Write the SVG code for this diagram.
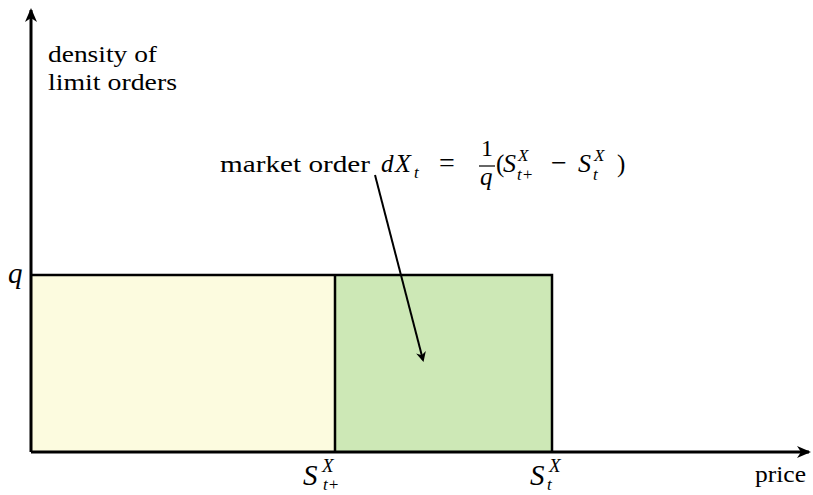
<svg xmlns="http://www.w3.org/2000/svg" width="813" height="495" viewBox="0 0 813 495">
<style>
text{font-family:"Liberation Serif","DejaVu Serif","Noto Serif",serif;fill:#000}
.t{font-size:23px}
.m{font-style:italic}
.axis{stroke:#000;stroke-width:3;fill:none}
.box{stroke:#000;stroke-width:2.5}
</style>
<defs>
<marker id="ah" markerWidth="10" markerHeight="10" refX="8" refY="5" orient="auto" markerUnits="userSpaceOnUse">
<path d="M0,0 L10,5 L0,10 L3,5 Z" fill="#000"/>
</marker>
<marker id="ah2" markerWidth="14" markerHeight="14" refX="12" refY="7" orient="auto" markerUnits="userSpaceOnUse">
<path d="M0,1 L14,7 L0,13 L4,7 Z" fill="#000"/>
</marker>
</defs>
<g id="bars">
<rect x="31" y="275" width="304" height="177" fill="#fcfbdf"/>
<rect x="335" y="275" width="217" height="177" fill="#cde8b6"/>
<polyline class="box" fill="none" points="31,275 552,275 552,452"/>
<line class="box" x1="335" y1="275" x2="335" y2="452"/>
</g>
<g id="axes">
<line class="axis" x1="31" y1="452" x2="31" y2="10" marker-end="url(#ah2)"/>
<line class="axis" x1="31" y1="452" x2="809" y2="452" marker-end="url(#ah2)"/>
</g>
<g id="connectors">
<line x1="375" y1="175" x2="423" y2="360" stroke="#000" stroke-width="2" marker-end="url(#ah)"/>
</g>
<g id="ylabel">
<text class="t" x="48" y="62" textLength="109" lengthAdjust="spacingAndGlyphs">density of</text>
<text class="t" x="48" y="90" textLength="129" lengthAdjust="spacingAndGlyphs">limit orders</text>
</g>
<g id="qlabel">
<text class="m" x="8" y="283" font-size="29">q</text>
</g>
<g id="formula">
<text class="t" x="220" y="172" textLength="150" lengthAdjust="spacingAndGlyphs">market order</text>
<text class="m" x="381" y="172" font-size="25">d</text>
<text class="m" x="395" y="172" font-size="26">X</text>
<text class="m" x="414" y="178" font-size="17">t</text>
<text x="439" y="172" font-size="28">=</text>
<text x="481" y="156" font-size="24">1</text>
<line x1="479" y1="166" x2="495" y2="166" stroke="#000" stroke-width="1.2"/>
<text class="m" x="480" y="185" font-size="25">q</text>
<text x="496" y="172" font-size="25">(</text>
<text class="m" x="503" y="172" font-size="26">S</text>
<text class="m" x="518" y="161" font-size="17">X</text>
<text class="m" x="517" y="180" font-size="17">t+</text>
<text x="551" y="172" font-size="28">−</text>
<text class="m" x="578" y="172" font-size="26">S</text>
<text class="m" x="594" y="161" font-size="17">X</text>
<text class="m" x="593" y="180" font-size="17">t</text>
<text x="617" y="172" font-size="25">)</text>
</g>
<g id="xlabels">
<text class="m" x="303" y="485" font-size="29">S</text>
<text class="m" x="322" y="472" font-size="19">X</text>
<text class="m" x="323" y="490" font-size="17">t+</text>
<text class="m" x="530" y="485" font-size="29">S</text>
<text class="m" x="549" y="472" font-size="19">X</text>
<text class="m" x="547" y="490" font-size="17">t</text>
<text class="t" x="755" y="482" textLength="51" lengthAdjust="spacingAndGlyphs">price</text>
</g>
</svg>
